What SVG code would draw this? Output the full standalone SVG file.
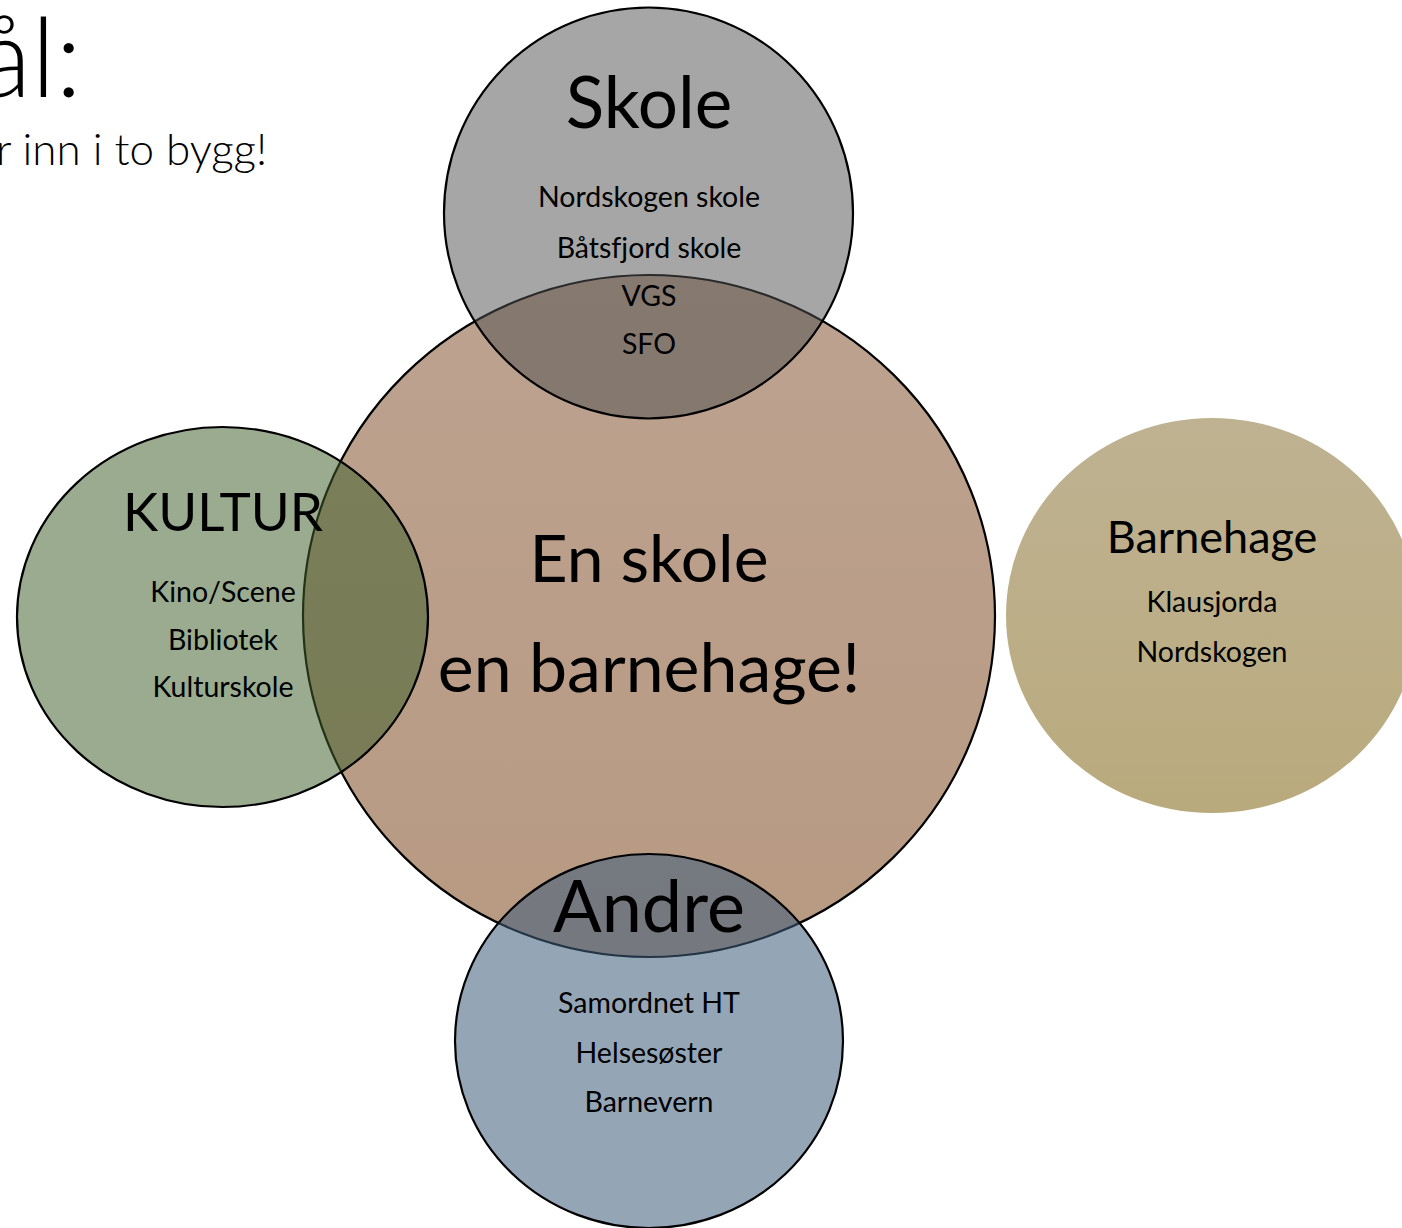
<svg xmlns="http://www.w3.org/2000/svg" width="1402" height="1228" viewBox="0 0 1402 1228">
<defs>
<linearGradient id="gMain" x1="0" y1="0" x2="0" y2="1"><stop offset="0" stop-color="#bca290"/><stop offset="1" stop-color="#b89a82"/></linearGradient>
<linearGradient id="gBarn" x1="0" y1="0" x2="0" y2="1"><stop offset="0" stop-color="#bfb292"/><stop offset="1" stop-color="#b9aa7d"/></linearGradient>
<style>
text{font-family:Lato,"Open Sans","Liberation Sans",sans-serif;fill:#000;text-anchor:middle;font-variant-ligatures:none}
.item{font-size:28.5px}
.ring{stroke:#000;stroke-width:2.2}
.title{font-weight:300;text-anchor:start}
</style>
</defs>
<g id="header">
<text class="title" x="-22" y="97" style="font-size:110px">ål:</text>
<text class="title" x="-4" y="165" style="font-size:44px">r inn i to bygg!</text>
</g>
<g id="main">
<ellipse class="ring" cx="649" cy="616" rx="346" ry="341" fill="url(#gMain)"/>
</g>
<g id="skole">
<ellipse class="ring" cx="648.5" cy="213" rx="204.5" ry="205.5" fill="#525252" fill-opacity="0.515"/>
</g>
<g id="kultur">
<ellipse class="ring" cx="222.5" cy="617" rx="205.5" ry="190" fill="#40602b" fill-opacity="0.53"/>
</g>
<g id="andre">
<ellipse class="ring" cx="649" cy="1041" rx="194" ry="187" fill="#405f7d" fill-opacity="0.56"/>
</g>
<g id="barnehage">
<ellipse cx="1212" cy="615.5" rx="206" ry="197.5" fill="url(#gBarn)"/>
</g>
<g id="labels">
<text x="649" y="128" style="font-size:71px">Skole</text>
<text class="item" x="649" y="207">Nordskogen skole</text>
<text class="item" x="649" y="258">Båtsfjord skole</text>
<text class="item" x="649" y="306">VGS</text>
<text class="item" x="649" y="354">SFO</text>
<text x="223" y="531" style="font-size:53px">KULTUR</text>
<text class="item" x="223" y="602">Kino/Scene</text>
<text class="item" x="223" y="650">Bibliotek</text>
<text class="item" x="223" y="697">Kulturskole</text>
<text x="649" y="582" style="font-size:66px">En skole</text>
<text x="649" y="692" style="font-size:68px">en barnehage!</text>
<text x="1212" y="553" style="font-size:45px">Barnehage</text>
<text class="item" x="1212" y="612">Klausjorda</text>
<text class="item" x="1212" y="662">Nordskogen</text>
<text x="649" y="932" style="font-size:72px">Andre</text>
<text class="item" x="649" y="1013">Samordnet HT</text>
<text class="item" x="649" y="1063">Helsesøster</text>
<text class="item" x="649" y="1112">Barnevern</text>
</g>
<g id="connectors"></g>
</svg>
